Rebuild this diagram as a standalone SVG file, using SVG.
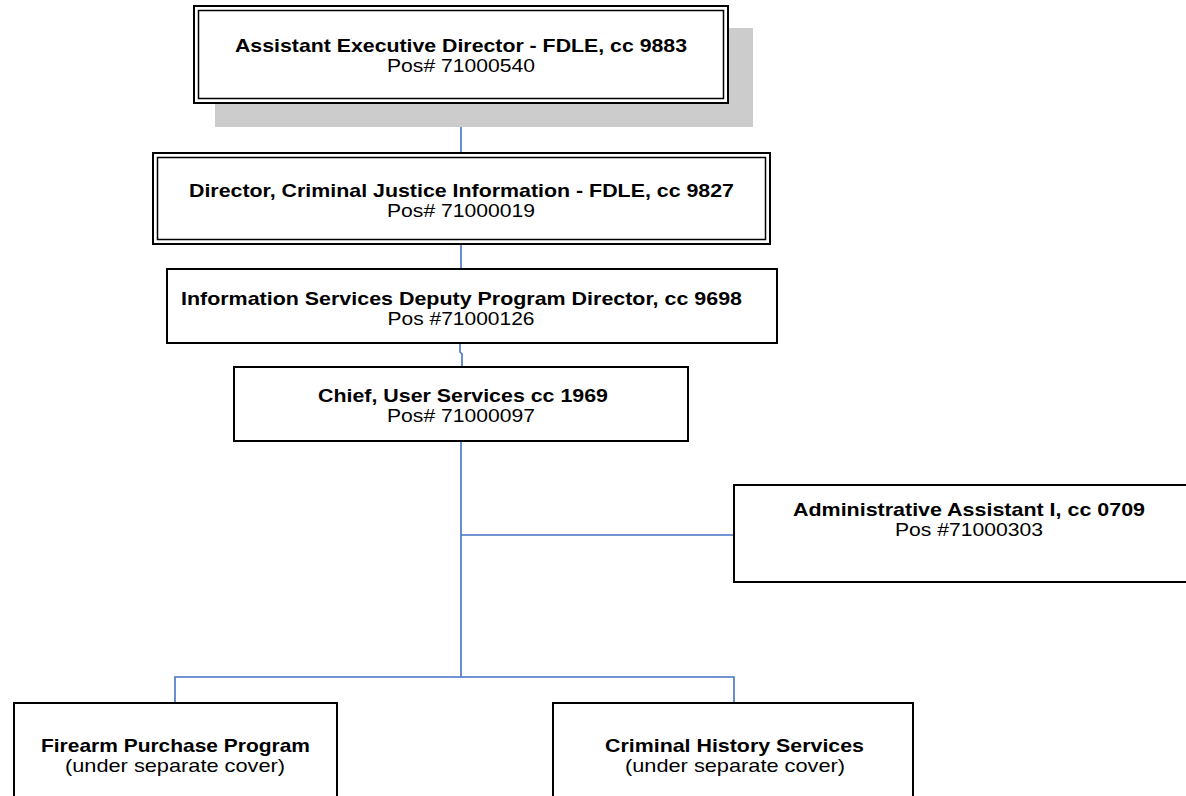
<svg xmlns="http://www.w3.org/2000/svg" width="1186" height="796" viewBox="0 0 1186 796">
  <style>
    .box { fill: #ffffff; stroke: #000000; stroke-width: 2; }
    .inner { fill: none; stroke: #000000; stroke-width: 1.5; }
    .conn { fill: none; stroke: #4472C4; stroke-width: 1.6; }
    text { font-family: "Liberation Sans", Arial, sans-serif; font-size: 18.5px; fill: #000000; text-anchor: middle; }
    .b { font-weight: bold; }
  </style>
  <rect width="1186" height="796" fill="#ffffff"/>

  <!-- connectors -->
  <g id="connectors">
    <line class="conn" x1="461" y1="103" x2="461" y2="152"/>
    <line class="conn" x1="461" y1="244" x2="461" y2="268"/>
    <polyline class="conn" points="460,343 460,352 462,354 462,366"/>
    <line class="conn" x1="461" y1="441" x2="461" y2="677"/>
    <line class="conn" x1="461" y1="535" x2="734" y2="535"/>
    <polyline class="conn" points="175,702 175,677 734,677 734,702"/>
  </g>

  <!-- top executive, with drop shadow -->
  <g id="node-asst-exec-director">
    <rect x="215" y="28" width="538" height="99" fill="#cccccc"/>
    <rect class="box" x="194" y="6" width="534" height="97"/>
    <rect class="inner" x="198.5" y="10.5" width="525" height="88"/>
    <text class="b" x="461" y="52" textLength="452" lengthAdjust="spacingAndGlyphs">Assistant Executive Director - FDLE, cc 9883</text>
    <text x="461" y="72" textLength="148" lengthAdjust="spacingAndGlyphs">Pos# 71000540</text>
  </g>

  <g id="node-director-cji">
    <rect class="box" x="153" y="153" width="617" height="91"/>
    <rect class="inner" x="157.5" y="157.5" width="608" height="82"/>
    <text class="b" x="461.5" y="197" textLength="545" lengthAdjust="spacingAndGlyphs">Director, Criminal Justice Information - FDLE, cc 9827</text>
    <text x="461" y="217" textLength="148" lengthAdjust="spacingAndGlyphs">Pos# 71000019</text>
  </g>

  <g id="node-deputy-program-director">
    <rect class="box" x="167" y="269" width="610" height="74"/>
    <text class="b" x="461.5" y="305" textLength="561" lengthAdjust="spacingAndGlyphs">Information Services Deputy Program Director, cc 9698</text>
    <text x="461" y="325" textLength="147" lengthAdjust="spacingAndGlyphs">Pos #71000126</text>
  </g>

  <g id="node-chief-user-services">
    <rect class="box" x="234" y="367" width="454" height="74"/>
    <text class="b" x="463" y="402" textLength="290" lengthAdjust="spacingAndGlyphs">Chief, User Services cc 1969</text>
    <text x="461" y="422" textLength="148" lengthAdjust="spacingAndGlyphs">Pos# 71000097</text>
  </g>

  <g id="node-admin-assistant">
    <rect class="box" x="734" y="485" width="460" height="97"/>
    <text class="b" x="969" y="516" textLength="352" lengthAdjust="spacingAndGlyphs">Administrative Assistant I, cc 0709</text>
    <text x="969" y="536" textLength="148" lengthAdjust="spacingAndGlyphs">Pos #71000303</text>
  </g>

  <g id="node-firearm-purchase">
    <rect class="box" x="14" y="703" width="323" height="110"/>
    <text class="b" x="175.5" y="752" textLength="269" lengthAdjust="spacingAndGlyphs">Firearm Purchase Program</text>
    <text x="175" y="772" textLength="220" lengthAdjust="spacingAndGlyphs">(under separate cover)</text>
  </g>

  <g id="node-criminal-history">
    <rect class="box" x="553" y="703" width="360" height="110"/>
    <text class="b" x="734.5" y="752" textLength="259" lengthAdjust="spacingAndGlyphs">Criminal History Services</text>
    <text x="735" y="772" textLength="220" lengthAdjust="spacingAndGlyphs">(under separate cover)</text>
  </g>
</svg>
